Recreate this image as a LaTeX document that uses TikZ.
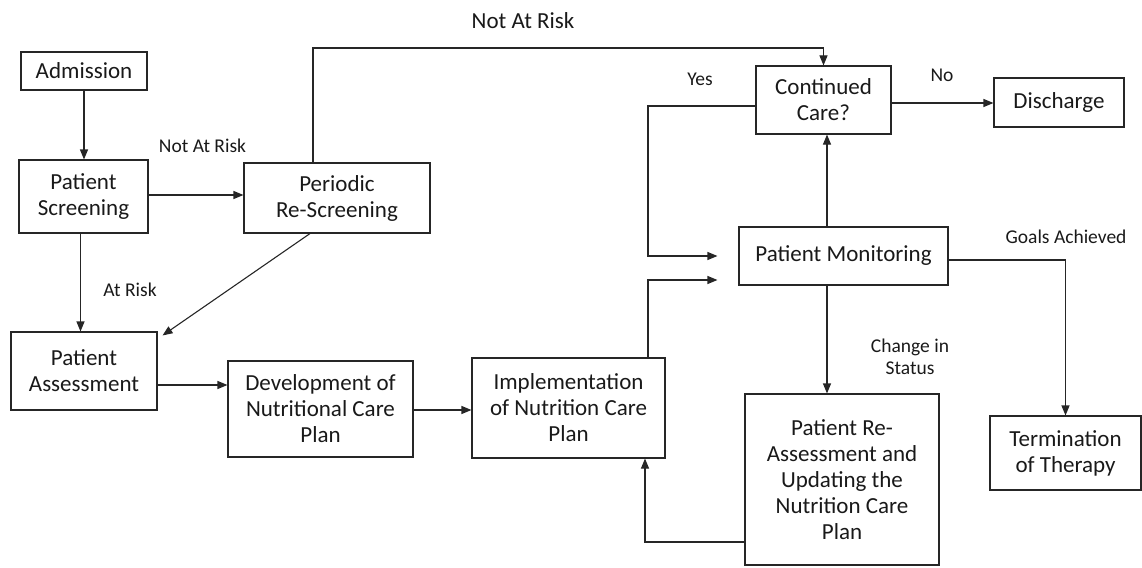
\documentclass[tikz,border=0pt]{standalone}
\usepackage{fontspec}
\setmainfont{Carlito}
\usetikzlibrary{arrows.meta}
\begin{document}
\begin{tikzpicture}[x=1pt,y=-1pt,
  box/.style={draw=black!85, line width=1.1pt, align=center, inner sep=0pt,
    font=\fontsize{23}{26}\selectfont, text=black!90},
  lbl/.style={font=\fontsize{19.5}{22.5}\selectfont, align=center, inner sep=0pt, text=black!90},
  biglbl/.style={lbl, font=\fontsize{23}{26}\selectfont},
  arr/.style={draw=black!85, line width=1.1pt, -{Triangle[length=10pt,width=8pt]}}]
\useasboundingbox (0,0) rectangle (1142,567);
% boxes
\node[box, minimum width=126pt, minimum height=38pt] (adm) at (84,71) {Admission};
\node[box, minimum width=129pt, minimum height=73pt] (scr) at (83.5,196.5) {Patient\\Screening};
\node[box, minimum width=186pt, minimum height=70pt] (per) at (337,198) {Periodic\\Re-Screening};
\node[box, minimum width=146pt, minimum height=78pt] (ass) at (84,371) {Patient\\Assessment};
\node[box, minimum width=185pt, minimum height=96pt] (dev) at (320.5,409) {Development of\\Nutritional Care\\Plan};
\node[box, minimum width=193pt, minimum height=100pt] (impl) at (568.5,408) {Implementation\\of Nutrition Care\\Plan};
\node[box, minimum width=209pt, minimum height=58pt] (mon) at (843.5,256) {Patient Monitoring};
\node[box, minimum width=135pt, minimum height=68pt] (cont) at (823.5,100) {Continued\\Care?};
\node[box, minimum width=130pt, minimum height=49pt] (dis) at (1059,102.5) {Discharge};
\node[box, minimum width=194pt, minimum height=171pt] (rea) at (842,479.5) {Patient Re-\\Assessment and\\Updating the\\Nutrition Care\\Plan};
\node[box, minimum width=151pt, minimum height=74pt] (term) at (1065.5,453) {Termination\\of Therapy};
% helper coordinates
\coordinate (t) at (313,48);
\coordinate (yx) at (648,0);
\coordinate (vx) at (827,0);
\coordinate (fx) at (645,542);
% connectors
\draw[arr] (adm.south) -- (adm.south |- scr.north);
\draw[arr] ([yshift=1.5pt]scr.east) -- ([yshift=1.5pt]scr.east -| per.west);
\draw[arr] ([xshift=-3pt]scr.south) -- ([xshift=-3pt]scr.south |- ass.north);
\draw[arr] ([xshift=-24pt]per.north) |- (cont.north |- t) -- (cont.north);
\draw[arr] ([xshift=-27pt]per.south) -- ([xshift=5pt,yshift=-4pt]ass.north east);
\draw[arr] ([yshift=-14pt]ass.east) -- ([yshift=-14pt]ass.east -| dev.west);
\draw[arr] ([yshift=-1pt]dev.east) -- ([yshift=-1pt]dev.east -| impl.west);
\draw[arr] ([yshift=-6pt]cont.west) -| (yx |- mon.west) -- ([xshift=-21pt]mon.west);
\draw[arr] (yx |- impl.north) |- ([xshift=-21pt,yshift=-24pt]mon.west);
\draw[arr] (vx |- mon.north) -- (vx |- cont.south);
\draw[arr] (vx |- mon.south) -- (vx |- rea.north);
\draw[arr] ([yshift=-3pt]cont.east) -- ([yshift=-3pt]cont.east -| dis.west);
\draw[arr] ([yshift=-4pt]mon.east) -| (term.north);
\draw[arr] (rea.west |- fx) -| (fx |- impl.south);
% labels
\node[biglbl] (l1) at (523,21) {Not At Risk};
\node[lbl] (l2) at (202.5,146) {Not At Risk};
\node[lbl] (l3) at (130,290) {At Risk};
\node[lbl] (l4) at (700,79) {Yes};
\node[lbl] (l5) at (942,75) {No};
\node[lbl] (l6) at (1066,237) {Goals Achieved};
\node[lbl] (l7) at (910,357) {Change in\\Status};
\end{tikzpicture}
\end{document}
